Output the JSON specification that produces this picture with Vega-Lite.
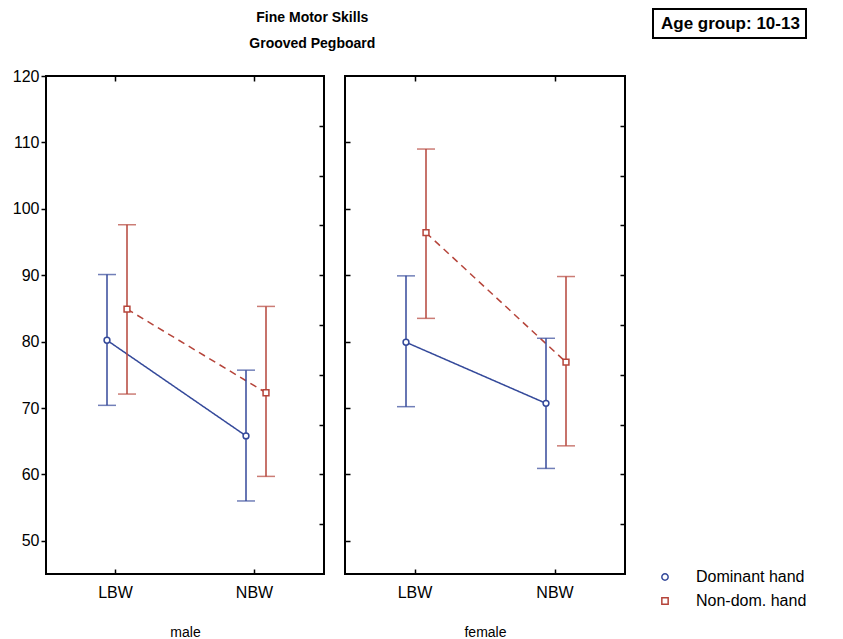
{
  "$schema": "https://vega.github.io/schema/vega-lite/v6.json",
  "background": "white",
  "padding": {"left": 11, "top": 8, "right": 0, "bottom": 0},
  "config": {
    "font": "Liberation Sans",
    "view": {"stroke": "black", "strokeWidth": 2},
    "axis": {"domain": false, "grid": false, "labelFont": "Liberation Sans", "labelFontSize": 16, "labelColor": "black", "tickColor": "black", "tickWidth": 1.5, "titleFont": "Liberation Sans", "titleFontWeight": "normal", "titleFontSize": 14, "titleColor": "black"},
    "legend": {"strokeWidth": 2},
    "concat": {"spacing": 17}
  },
  "title": {"text": ["Fine Motor Skills", "Grooved Pegboard"], "fontSize": 14, "fontWeight": "bold", "anchor": "start", "align": "center", "frame": "bounds", "lineHeight": 26, "offset": -43, "dx": 301, "color": "black", "font": "Liberation Sans"},
  "data": {"values": [
    {"sex": "male", "group": "LBW", "hand": "Dominant hand", "mean": 80.2, "lower": 70.4, "upper": 90.1},
    {"sex": "male", "group": "LBW", "hand": "Non-dom. hand", "mean": 84.9, "lower": 72.1, "upper": 97.6},
    {"sex": "male", "group": "NBW", "hand": "Dominant hand", "mean": 65.8, "lower": 56.0, "upper": 75.7},
    {"sex": "male", "group": "NBW", "hand": "Non-dom. hand", "mean": 72.3, "lower": 59.7, "upper": 85.3},
    {"sex": "female", "group": "LBW", "hand": "Dominant hand", "mean": 79.9, "lower": 70.2, "upper": 89.9},
    {"sex": "female", "group": "LBW", "hand": "Non-dom. hand", "mean": 96.4, "lower": 83.5, "upper": 109.0},
    {"sex": "female", "group": "NBW", "hand": "Dominant hand", "mean": 70.7, "lower": 60.9, "upper": 80.5},
    {"sex": "female", "group": "NBW", "hand": "Non-dom. hand", "mean": 76.9, "lower": 64.3, "upper": 89.8}
  ]},
  "hconcat": [
    {
      "transform": [{"filter": "datum.sex === 'male'"}],
      "width": 278, "height": 498,
      "encoding": {
        "x": {"field": "group", "type": "nominal", "scale": {"type": "band", "paddingInner": 0, "paddingOuter": 0}, "axis": null},
        "xOffset": {"field": "hand", "type": "nominal", "scale": {"type": "point", "padding": 0, "range": [61, 81]}}
      },
      "layer": [
        {
          "mark": {"type": "line", "strokeWidth": 1.5},
          "encoding": {
            "x": {"field": "group", "type": "nominal", "scale": {"type": "band", "paddingInner": 0, "paddingOuter": 0}, "axis": {"orient": "bottom", "title": "male", "labelAngle": 0, "tickSize": -5, "labelPadding": 15, "titlePadding": 25}},
            "y": {"field": "mean", "type": "quantitative", "scale": {"domain": [45, 120], "nice": false, "zero": false}, "axis": {"orient": "left", "values": [50, 60, 70, 80, 90, 100, 110, 120], "tickSize": 5, "labelPadding": 2, "title": null}},
            "detail": {"field": "hand", "type": "nominal"},
            "color": {"condition": {"test": "datum.hand === 'Dominant hand'", "value": "#34499a"}, "value": "#b5443a"},
            "strokeDash": {"condition": {"test": "datum.hand === 'Dominant hand'", "value": [1, 0]}, "value": [7, 5]}
          }
        },
        {
          "mark": {"type": "rule", "strokeWidth": 1.5},
          "encoding": {
            "x": {"field": "group", "type": "nominal", "scale": {"type": "band", "paddingInner": 0, "paddingOuter": 0}, "axis": {"orient": "top", "labels": false, "title": null, "tickSize": -5}},
            "y": {"field": "lower", "type": "quantitative", "scale": {"domain": [45, 120], "nice": false, "zero": false}, "axis": {"orient": "right", "values": [52.5, 60, 67.5, 75, 82.5, 90, 97.5, 105, 112.5], "labels": false, "tickSize": -5, "title": null}},
            "y2": {"field": "upper"},
            "color": {"condition": {"test": "datum.hand === 'Dominant hand'", "value": "#34499a"}, "value": "#b5443a"}
          }
        },
        {
          "mark": {"type": "tick", "size": 18, "thickness": 1.5},
          "encoding": {
            "y": {"field": "lower", "type": "quantitative", "axis": null},
            "color": {"condition": {"test": "datum.hand === 'Dominant hand'", "value": "#34499a"}, "value": "#b5443a"}
          }
        },
        {
          "mark": {"type": "tick", "size": 18, "thickness": 1.5},
          "encoding": {
            "y": {"field": "upper", "type": "quantitative", "axis": null},
            "color": {"condition": {"test": "datum.hand === 'Dominant hand'", "value": "#34499a"}, "value": "#b5443a"}
          }
        },
        {
          "mark": {"type": "point", "filled": false, "fill": "white", "strokeWidth": 1.5, "opacity": 1},
          "encoding": {
            "y": {"field": "mean", "type": "quantitative", "axis": null},
            "color": {"field": "hand", "type": "nominal", "scale": {"domain": ["Dominant hand", "Non-dom. hand"], "range": ["#34499a", "#b5443a"]},
              "legend": {"orient": "none", "legendX": 611, "legendY": 493, "title": null, "symbolSize": 40, "symbolStrokeWidth": 1.5, "symbolFillColor": "white", "labelFontSize": 16, "labelColor": "black", "labelOffset": 23, "rowPadding": 8, "labelLimit": 0}},
            "shape": {"field": "hand", "type": "nominal", "scale": {"domain": ["Dominant hand", "Non-dom. hand"], "range": ["circle", "square"]},
              "legend": {"orient": "none", "legendX": 611, "legendY": 493, "title": null, "symbolSize": 40, "symbolStrokeWidth": 1.5, "symbolFillColor": "white", "labelFontSize": 16, "labelColor": "black", "labelOffset": 23, "rowPadding": 8, "labelLimit": 0}},
            "size": {"datum": "Age group: 10-13", "type": "ordinal", "scale": {"range": [34, 34]},
              "legend": {"orient": "none", "legendX": 607, "legendY": -67, "title": null, "strokeColor": "black", "padding": 6, "symbolOpacity": 0, "labelOffset": -15, "labelFontSize": 17, "labelFontWeight": "bold", "labelColor": "black", "labelLimit": 0}}
          }
        }
      ],
      "resolve": {"axis": {"x": "independent", "y": "independent"}}
    },
    {
      "transform": [{"filter": "datum.sex === 'female'"}],
      "width": 280, "height": 498,
      "encoding": {
        "x": {"field": "group", "type": "nominal", "scale": {"type": "band", "paddingInner": 0, "paddingOuter": 0}, "axis": null},
        "xOffset": {"field": "hand", "type": "nominal", "scale": {"type": "point", "padding": 0, "range": [61, 81]}}
      },
      "layer": [
        {
          "mark": {"type": "line", "strokeWidth": 1.5},
          "encoding": {
            "x": {"field": "group", "type": "nominal", "scale": {"type": "band", "paddingInner": 0, "paddingOuter": 0}, "axis": {"orient": "bottom", "title": "female", "labelAngle": 0, "tickSize": -5, "labelPadding": 15, "titlePadding": 25}},
            "y": {"field": "mean", "type": "quantitative", "scale": {"domain": [45, 120], "nice": false, "zero": false}, "axis": {"orient": "left", "values": [50, 60, 70, 80, 90, 100, 110], "tickSize": -5, "labels": false, "title": null}},
            "detail": {"field": "hand", "type": "nominal"},
            "color": {"condition": {"test": "datum.hand === 'Dominant hand'", "value": "#34499a"}, "value": "#b5443a"},
            "strokeDash": {"condition": {"test": "datum.hand === 'Dominant hand'", "value": [1, 0]}, "value": [7, 5]}
          }
        },
        {
          "mark": {"type": "rule", "strokeWidth": 1.5},
          "encoding": {
            "x": {"field": "group", "type": "nominal", "scale": {"type": "band", "paddingInner": 0, "paddingOuter": 0}, "axis": {"orient": "top", "labels": false, "title": null, "tickSize": -5}},
            "y": {"field": "lower", "type": "quantitative", "scale": {"domain": [45, 120], "nice": false, "zero": false}, "axis": {"orient": "right", "values": [52.5, 60, 67.5, 75, 82.5, 90, 97.5, 105, 112.5], "labels": false, "tickSize": -5, "title": null}},
            "y2": {"field": "upper"},
            "color": {"condition": {"test": "datum.hand === 'Dominant hand'", "value": "#34499a"}, "value": "#b5443a"}
          }
        },
        {
          "mark": {"type": "tick", "size": 18, "thickness": 1.5},
          "encoding": {
            "y": {"field": "lower", "type": "quantitative", "axis": null},
            "color": {"condition": {"test": "datum.hand === 'Dominant hand'", "value": "#34499a"}, "value": "#b5443a"}
          }
        },
        {
          "mark": {"type": "tick", "size": 18, "thickness": 1.5},
          "encoding": {
            "y": {"field": "upper", "type": "quantitative", "axis": null},
            "color": {"condition": {"test": "datum.hand === 'Dominant hand'", "value": "#34499a"}, "value": "#b5443a"}
          }
        },
        {
          "mark": {"type": "point", "filled": false, "fill": "white", "strokeWidth": 1.5, "opacity": 1, "size": 34},
          "encoding": {
            "y": {"field": "mean", "type": "quantitative", "axis": null},
            "color": {"condition": {"test": "datum.hand === 'Dominant hand'", "value": "#34499a"}, "value": "#b5443a"},
            "shape": {"condition": {"test": "datum.hand === 'Dominant hand'", "value": "circle"}, "value": "square"}
          }
        }
      ],
      "resolve": {"axis": {"x": "independent", "y": "independent"}}
    }
  ]
}
